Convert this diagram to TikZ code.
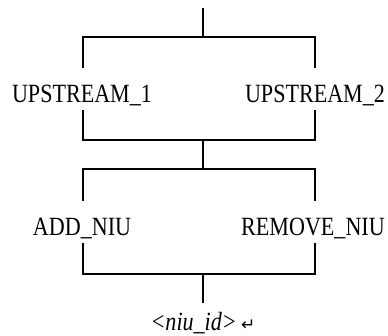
\documentclass[tikz,border=0pt]{standalone}
\usepackage{fontspec}
\setmainfont{Liberation Serif}[FakeStretch=0.84]
\newfontfamily\arrowfont{DejaVu Sans}
\begin{document}
\begin{tikzpicture}[x=1pt,y=-1pt,
  rail/.style={line width=2.7pt,line cap=butt},
  lbl/.style={inner sep=0pt,anchor=base,text height=34pt,text depth=8pt,
    font=\fontsize{26.3}{30}\selectfont},
  endlbl/.style={inner sep=0pt,anchor=base,text height=27pt,text depth=5pt,
    font=\fontsize{26.3}{30}\selectfont}]
\useasboundingbox (0,0) rectangle (388,335);
% junctions
\coordinate (top) at (203,8);
\coordinate (j1) at (203,37);
\coordinate (l1) at (83,37);
\coordinate (r1) at (315,37);
\coordinate (l2) at (83,140);
\coordinate (r2) at (315,140);
\coordinate (j2) at (203,140);
\coordinate (j3) at (203,169);
\coordinate (l3) at (83,169);
\coordinate (r3) at (315,169);
\coordinate (l4) at (83,274);
\coordinate (r4) at (315,274);
\coordinate (j4) at (203,274);
% labels
\node[lbl] (up1) at (82,102) {UPSTREAM\_1};
\node[lbl] (up2) at (315,102) {UPSTREAM\_2};
\node[lbl] (add) at (82,235) {ADD\_NIU};
\node[lbl] (rem) at (313,235) {REMOVE\_NIU};
\node[endlbl] (nid) at (203,330) {{\itshape <niu\_id>}\,{\arrowfont\fontsize{17}{17}\selectfont ↵}};
% rails
\draw[rail] (top) -- (j1);
\draw[rail] (up1.north -| l1) -- (l1) -- (r1) -- (up2.north -| r1);
\draw[rail] (up1.south -| l2) -- (l2) -- (r2) -- (up2.south -| r2);
\draw[rail] (j2) -- (j3);
\draw[rail] (add.north -| l3) -- (l3) -- (r3) -- (rem.north -| r3);
\draw[rail] (add.south -| l4) -- (l4) -- (r4) -- (rem.south -| r4);
\draw[rail] (j4) -- (nid.north);
\end{tikzpicture}
\end{document}
